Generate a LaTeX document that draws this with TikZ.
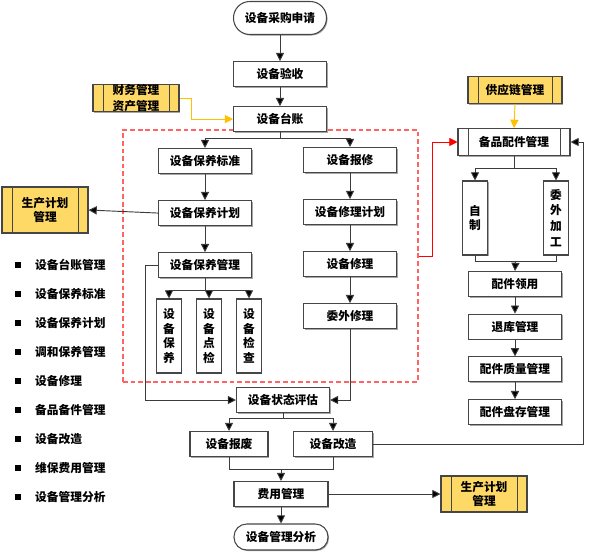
\documentclass[tikz,border=0pt]{standalone}
\usepackage{fontspec}
\newfontfamily\cjk{Noto Sans CJK SC}
\usepackage{xcolor}
\usetikzlibrary{arrows.meta, positioning, fit, calc, shadows}
\definecolor{boxgray}{RGB}{70, 70, 70}
\definecolor{linegray}{RGB}{60, 60, 60}
\definecolor{gold}{RGB}{255, 217, 102}
\definecolor{amber}{RGB}{255, 192, 0}
\definecolor{dashred}{RGB}{255, 100, 100}

\begin{document}
\begin{tikzpicture}[
        x=0.03cm, y=-0.03cm,
        node distance = 0.78cm,
        >={Triangle[length=7pt, width=7pt, fill=black]},
        box/.style = {draw=boxgray, line width=0.9pt, fill=white, rectangle, minimum width=2.79cm, minimum height=0.75cm, inner sep=0pt, align=center, font=\cjk\bfseries\fontsize{10}{12.5}\selectfont, drop shadow={shadow xshift=0.9pt, shadow yshift=-0.9pt, fill=black!35, opacity=1}},
        vbox/.style = {box, minimum width=0.73cm, minimum height=2.22cm},
        term/.style = {box, rounded corners=0.38cm, drop shadow={shadow xshift=0pt, shadow yshift=0pt, opacity=0}},
        ybox/.style = {box, fill=gold, minimum width=2.58cm,
            path picture={\draw[boxgray, line width=0.8pt]
                ([xshift=0.3cm]path picture bounding box.north west) -- ([xshift=0.3cm]path picture bounding box.south west)
                ([xshift=-0.3cm]path picture bounding box.north east) -- ([xshift=-0.3cm]path picture bounding box.south east);}},
        zone/.style = {draw=dashred, dash pattern=on 4pt off 2.5pt, line width=0.9pt, inner sep=0pt},
        arrow/.style = {draw=linegray, line width=0.8pt, ->},
        line/.style = {draw=linegray, line width=0.8pt},
        goldarrow/.style = {draw=amber, line width=0.8pt, ->, >={Triangle[length=7pt, width=7pt, fill=amber]}},
        redarrow/.style = {draw=red, line width=0.8pt, ->, >={Triangle[length=7pt, width=7pt, fill=red]}},
        item/.style = {anchor=west, inner sep=0pt, font=\cjk\bfseries\fontsize{10}{12}\selectfont},
        dot/.style = {fill=black, inner sep=0pt, minimum size=0.17cm}
    ]
        \path[use as bounding box] (0,0) rectangle (597,552);

        % dashed area
        \node [zone, fit={(123,130) (418,382)}] (zone) {};

        % Nodes
        \node [term, minimum height=0.99cm, rounded corners=0.49cm] (apply) at (280,18) {设备采购申请};
        \node [box, below=of apply] (accept) {设备验收};
        \node [box, below=0.57cm of accept] (ledger) {设备台账};
        \node [ybox, minimum height=0.81cm, font=\cjk\bfseries\fontsize{10}{13}\selectfont] (finance) at (136,98) {财务管理\\资产管理};

        \node [box] (std) at (205,161) {设备保养标准};
        \node [box, below=of std] (plan) {设备保养计划};
        \node [box, below=of plan] (care) {设备保养管理};
        \node [vbox] (keep) at (169,336) {设\\备\\保\\养};
        \node [vbox] (spot) at (209,336) {设\\备\\点\\检};
        \node [vbox] (check) at (249,336) {设\\备\\检\\查};
        \node [ybox, minimum height=1.38cm] (prodL) at (45,210) {生产计划\\管理};

        \node [box] (report) at (350,160) {设备报修};
        \node [box, below=of report] (rplan) {设备修理计划};
        \node [box, below=of rplan] (repair) {设备修理};
        \node [box, below=of repair] (outfix) {委外修理};

        \node [box] (eval) at (283,400) {设备状态评估};
        \node [box, minimum width=2.34cm] (scrap) at (229,444) {设备报废};
        \node [box, minimum width=2.37cm] (reform) at (333,444) {设备改造};
        \node [box, minimum width=2.82cm] (cost) at (281,494) {费用管理};
        \node [term, minimum width=2.82cm, minimum height=0.78cm] (analysis) at (281,537) {设备管理分析};
        \node [ybox, minimum height=1.08cm] (prodR) at (484,494) {生产计划\\管理};

        \node [ybox, minimum width=2.82cm, minimum height=0.81cm] (supply) at (515,90) {供应链管理};
        \node [ybox, fill=white, minimum width=3.36cm, minimum height=0.81cm] (spare) at (514,142) {备品配件管理};
        \node [vbox, minimum width=0.75cm] (self) at (475,218) {自\\制};
        \node [vbox, font=\cjk\bfseries\fontsize{10}{13.5}\selectfont] (outproc) at (556,218) {委\\外\\加\\工};
        \node [box] (take) at (515,284) {配件领用};
        \node [box, below=0.5cm of take] (back) {退库管理};
        \node [box, below=0.5cm of back] (quality) {配件质量管理};
        \node [box, below=0.5cm of quality] (stock) {配件盘存管理};

        % list on the left
        \foreach \txt [count=\i from 0] in {设备台账管理, 设备保养标准, 设备保养计划, 调和保养管理, 设备修理, 备品备件管理, 设备改造, 维保费用管理, 设备管理分析} {
            \node [dot] (dot\i) at (18, {265+29*\i}) {};
            \node [item] (item\i) at (35, {265+29*\i}) {\txt};
        }

        % Connections
        \draw [arrow] (apply) -- (accept);
        \draw [arrow] (accept) -- (ledger);
        \draw [goldarrow] (finance.east) -- ++(12,0) |- (ledger.west);
        \draw [arrow] (ledger.south) -- ++(0,6) -| (std.north);
        \draw [arrow] (ledger.south) -- ++(0,6) -| (report.north);

        \draw [arrow] (std) -- (plan);
        \draw [arrow] (plan) -- (care);
        \draw [arrow] (plan.west) -- (prodL.east);
        \draw [arrow] (care.south) -- ++(0,12) -| (keep.north);
        \draw [arrow] (care.south) -- ++(0,12) -| (spot.north);
        \draw [arrow] (care.south) -- ++(0,12) -| (check.north);
        \draw [arrow] (care.west) -- ++(-13,0) |- (eval.west);

        \draw [arrow] (report) -- (rplan);
        \draw [arrow] (rplan) -- (repair);
        \draw [arrow] (repair) -- (outfix);
        \draw [arrow] (outfix.south) |- (eval.east);

        \draw [arrow] (eval.south) -- ++(0,5) -| (scrap.north);
        \draw [arrow] (eval.south) -- ++(0,5) -| (reform.north);
        \draw [line] (scrap.south) -- ++(0,12) -| (reform.south);
        \coordinate (join) at ($(scrap.south)!0.5!(reform.south)+(0,12)$);
        \draw [arrow] (join) -- (cost.north);
        \draw [arrow] (cost) -- (analysis);
        \draw [arrow] (cost.east) -- (prodR.west);
        \draw [arrow] (reform.east) -- ++(210,0) |- (spare.east);

        \draw [redarrow] (zone.east) -- ++(14,0) |- (spare.west);
        \draw [goldarrow] (supply.south) -- (spare.north);
        \draw [arrow] (spare.south) -- ++(0,12) -| (self.north);
        \draw [arrow] (spare.south) -- ++(0,12) -| (outproc.north);
        \draw [line] (self.south) -- ++(0,6) -| (outproc.south);
        \coordinate (merge) at ($(self.south)!0.5!(outproc.south)+(0,6)$);
        \draw [arrow] (merge) -- (take.north);
        \draw [arrow] (take) -- (back);
        \draw [arrow] (back) -- (quality);
        \draw [arrow] (quality) -- (stock);
    \end{tikzpicture}
\end{document}
